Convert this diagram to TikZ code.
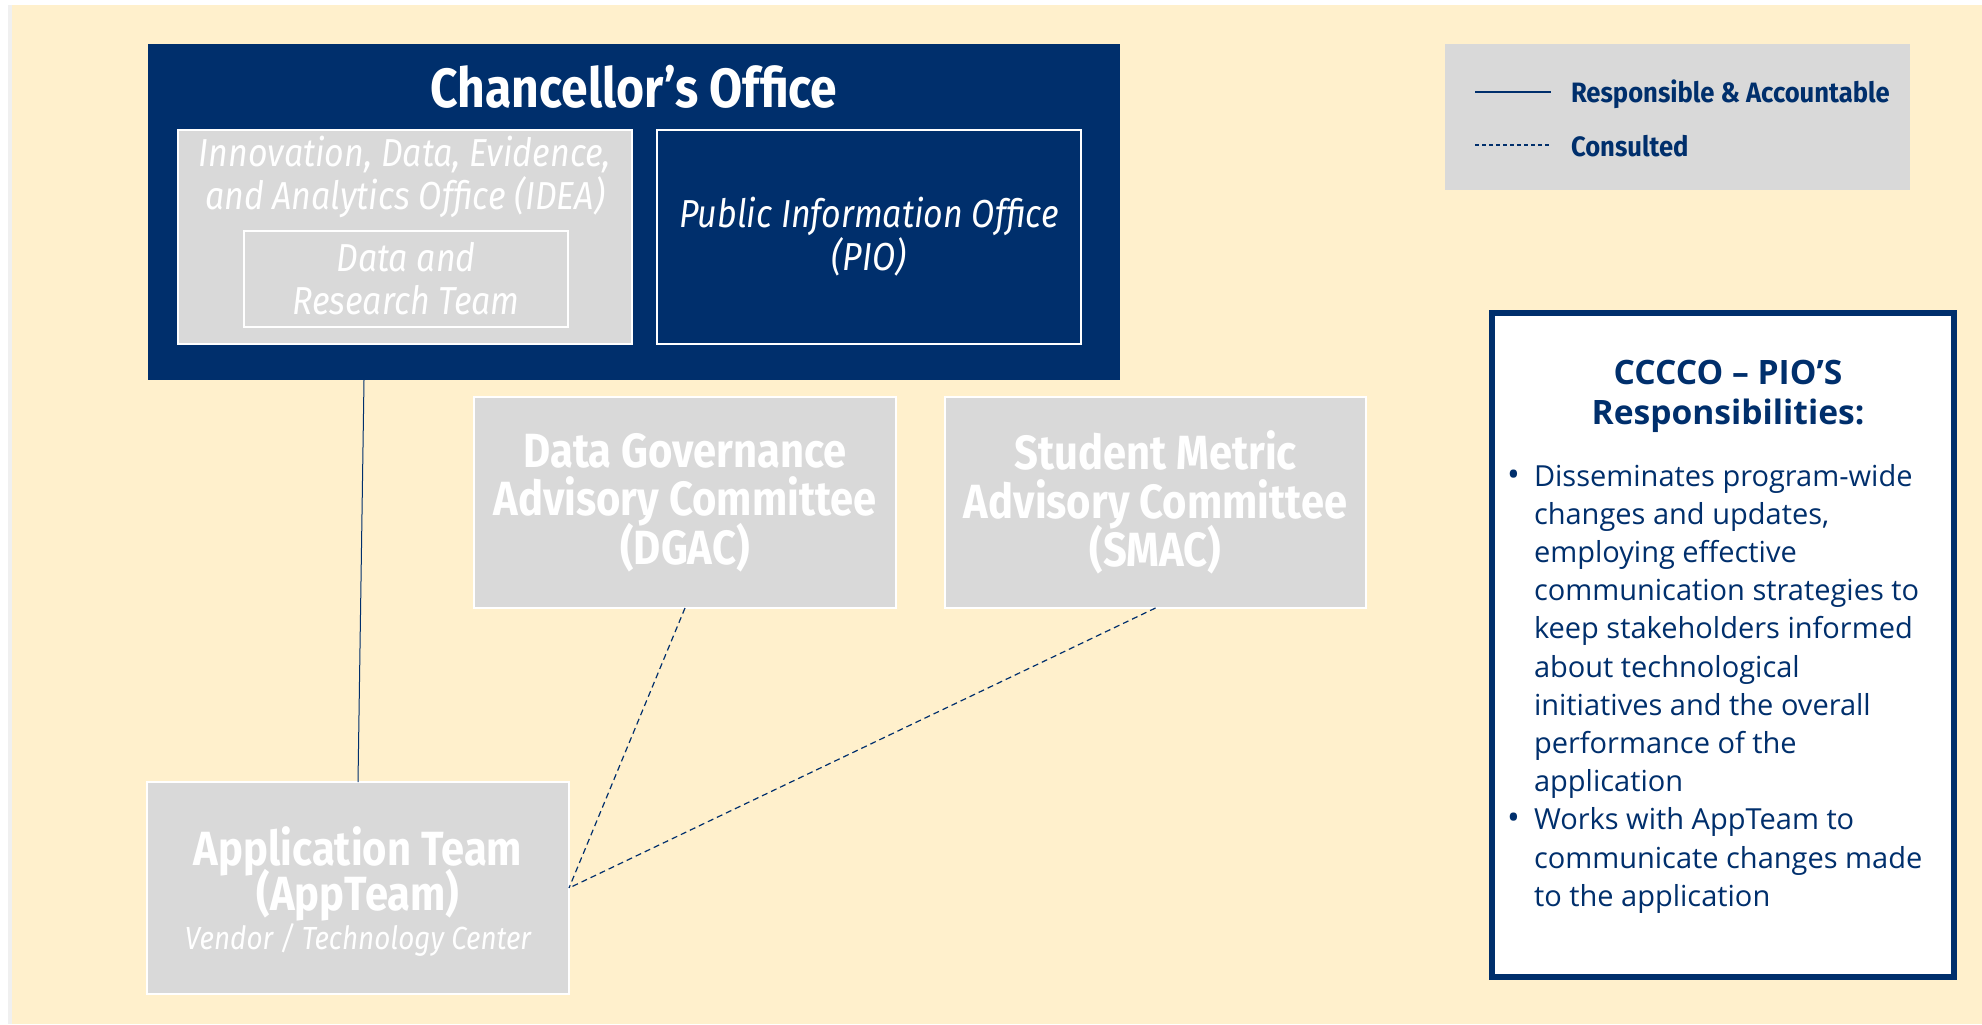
\documentclass[tikz,border=0pt]{standalone}
\usepackage{fontspec}
\setmainfont{Fira Sans}
\newfontfamily\condf{Fira Sans}[FakeStretch=0.87]
\newfontfamily\legf{Fira Sans}[FakeStretch=0.915]
\newfontfamily\respf{Open Sans}
\definecolor{navy}{HTML}{002F6C}
\definecolor{beige}{HTML}{FFF0CC}
\definecolor{boxgray}{HTML}{D9D9D9}
\lineskiplimit=-30pt
\begin{document}
\begin{tikzpicture}[x=0.5pt,y=-0.5pt,
  every node/.style={inner sep=0pt,outer sep=0pt},
  graybox/.style={rectangle,fill=boxgray,draw=white,line width=1pt,text=white,align=center},
  navybox/.style={rectangle,fill=navy,draw=white,line width=1pt,text=white,align=center},
  itxt/.style={font=\condf\itshape\fontsize{19.5}{21.5}\selectfont},
  btxt/.style={font=\condf\bfseries\fontsize{24}{24.3}\selectfont},
  solidcon/.style={draw=navy,line width=0.5pt},
  dashcon/.style={draw=navy,line width=0.6pt,dash pattern=on 3pt off 2pt},
  legtxt/.style={font=\legf\bfseries\fontsize{14}{16}\selectfont,text=navy,anchor=west}]
\useasboundingbox (0,0) rectangle (1982,1024);
\fill[white] (0,0) rectangle (1982,1024);
\fill[black!6] (8,5) rectangle (12,1024);
\fill[beige] (12,5) rectangle (1982,1024);
% Chancellor's Office
\node[rectangle,fill=navy,minimum width=486pt,minimum height=168pt] (chanc) at (634,212) {};
\node[text=white,font=\condf\bfseries\fontsize{27.6}{30}\selectfont] (chanctitle) at (634,87) {Chancellor’s Office};
\node[graybox,minimum width=227pt,minimum height=107pt] (idea) at (405,237) {};
\node[itxt,text=white,align=center] (ideatxt) at (405,177) {Innovation, Data, Evidence,\\and Analytics Office (IDEA)};
\node[graybox,itxt,minimum width=162pt,minimum height=48pt] (drt) at (406,279) {Data and\\Research Team};
\node[navybox,itxt,minimum width=212pt,minimum height=107pt] (pio) at (869,237) {Public Information Office\\(PIO)};
% committees
\node[graybox,btxt,minimum width=211pt,minimum height=105.5pt] (dgac) at (685,502.5) {Data Governance\\Advisory Committee\\(DGAC)};
\node[graybox,btxt,minimum width=210.5pt,minimum height=105.5pt] (smac) at (1155.5,502.5) {Student Metric\\Advisory Committee\\(SMAC)};
\node[graybox,minimum width=211pt,minimum height=106pt] (app) at (358,888) {};
\node[text=white,align=center,font=\condf\bfseries\fontsize{24}{22.5}\selectfont] (apptitle) at (358,874) {Application Team\\(AppTeam)};
\node[text=white,font=\condf\itshape\fontsize{16}{18}\selectfont] (appsub) at (358,940) {Vendor / Technology Center};
% connectors
\draw[solidcon] (app.north) -- ([xshift=3pt]app.north |- chanc.south);
\draw[dashcon] (dgac.south) -- (app.east);
\draw[dashcon] (smac.south) -- (app.east);
% legend
\node[rectangle,fill=boxgray,minimum width=232.5pt,minimum height=73pt] (legend) at (1677.5,117) {};
\coordinate (l1a) at (1475,92);
\coordinate (l1b) at (1551,92);
\coordinate (l2a) at (1475,145);
\coordinate (l2b) at (1551,145);
\draw[navy,line width=0.8pt] (l1a) -- (l1b);
\draw[navy,line width=0.6pt,dash pattern=on 2pt off 1.5pt] (l2a) -- (l2b);
\node[legtxt] (leg1) at (1571,94) {Responsible \& Accountable};
\node[legtxt] (leg2) at (1571,146) {Consulted};
% responsibilities
\node[rectangle,fill=white,draw=navy,line width=3pt,minimum width=231pt,minimum height=332pt] (resp) at (1723,645) {};
\node[text=navy,align=center,font=\respf\bfseries\fontsize{16.8}{20}\selectfont] (resptitle) at (1728,396) {CCCCO – PIO’S\\Responsibilities:};
\node[text=navy,align=left,anchor=north west,font=\respf\fontsize{14.5}{19.1}\selectfont] (resptxt) at (1534,464) {%
\llap{\fontsize{17}{19}\selectfont•\hspace{7pt}}Disseminates program-wide\\
changes and updates,\\
employing effective\\
communication strategies to\\
keep stakeholders informed\\
about technological\\
initiatives and the overall\\
performance of the\\
application\\
\llap{\fontsize{17}{19}\selectfont•\hspace{7pt}}Works with AppTeam to\\
communicate changes made\\
to the application};
\end{tikzpicture}
\end{document}
